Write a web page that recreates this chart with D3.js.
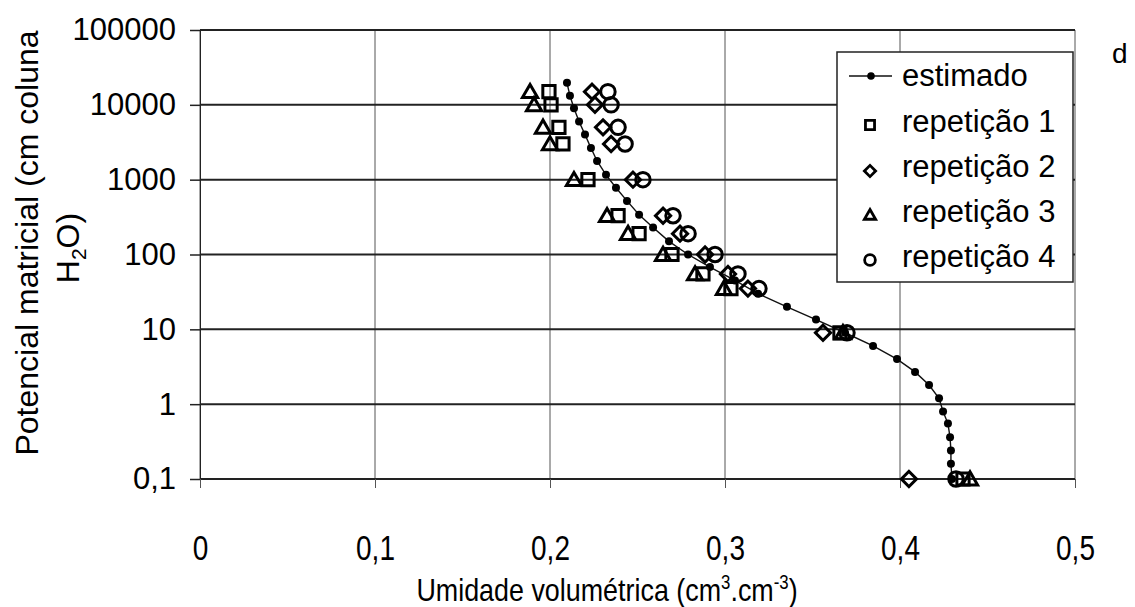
<!DOCTYPE html>
<html>
<head>
<meta charset="utf-8">
<script src="https://cdn.jsdelivr.net/npm/d3@7"></script>
<style>
  body { margin: 0; background: #fff; }
  svg { font-family: "Liberation Sans", Arial, sans-serif; }
</style>
</head>
<body>
<div class="container"></div>
<script>
// estimated curve (filled dots + line)
const estTheta = [0.2097, 0.2114, 0.2137, 0.2166, 0.2200, 0.2234, 0.2269, 0.2320, 0.2377, 0.2440,
                  0.2509, 0.2589, 0.2680, 0.2789, 0.2914, 0.3057, 0.3189, 0.3354, 0.3520, 0.3686,
                  0.3846, 0.3983, 0.4086, 0.4166, 0.4223, 0.4246, 0.4274, 0.4286, 0.4291, 0.4291, 0.4297];
const estH = [19700, 13200, 9000, 6000, 4000, 2650, 1780, 1160, 780, 520,
              340, 230, 150, 100, 68, 45, 30, 20, 13.5, 9,
              6, 4, 2.7, 1.8, 1.2, 0.8, 0.55, 0.36, 0.24, 0.16, 0.1];

// measured repetitions, all at the same suction levels
const repH = [15000, 10000, 5000, 3000, 1000, 330, 190, 100, 55, 35, 9, 0.1];
const rep1 = [0.1994, 0.2006, 0.2051, 0.2074, 0.2217, 0.2389, 0.2509, 0.2697, 0.2874, 0.3034, 0.3657, 0.4360];
const rep2 = [0.2240, 0.2257, 0.2303, 0.2349, 0.2474, 0.2646, 0.2743, 0.2886, 0.3017, 0.3131, 0.3560, 0.4051];
const rep3 = [0.1886, 0.1909, 0.1960, 0.2000, 0.2137, 0.2326, 0.2446, 0.2646, 0.2829, 0.2994, 0.3674, 0.4400];
const rep4 = [0.2331, 0.2349, 0.2389, 0.2429, 0.2531, 0.2703, 0.2789, 0.2943, 0.3074, 0.3194, 0.3697, 0.4320];

const xTicks = [0, 0.1, 0.2, 0.3, 0.4, 0.5];
const yTicks = [0.1, 1, 10, 100, 1000, 10000, 100000];
const legendLabels = ["estimado", "repetição 1", "repetição 2", "repetição 3", "repetição 4"];

const W = 1135, H = 607;
const plot = { left: 200, right: 1075, top: 30, bottom: 479 };

const svg = d3.select(".container").append("svg")
    .attr("width", W).attr("height", H);

const x = d3.scaleLinear().domain([0, 0.5]).range([plot.left, plot.right]);
const y = d3.scaleLog().domain([0.1, 100000]).range([plot.bottom, plot.top]);

const comma = v => String(v).replace(".", ",");

// vertical grid
svg.append("g").selectAll("line").data(xTicks).enter().append("line")
    .attr("x1", d => x(d)).attr("x2", d => x(d))
    .attr("y1", plot.top).attr("y2", plot.bottom)
    .attr("stroke", "#555").attr("stroke-width", 1);

// horizontal grid
svg.append("g").selectAll("line").data(yTicks).enter().append("line")
    .attr("x1", plot.left).attr("x2", plot.right)
    .attr("y1", d => y(d)).attr("y2", d => y(d))
    .attr("stroke", "#222").attr("stroke-width", 2);

// y axis
const yAxis = svg.append("g")
    .attr("transform", `translate(${plot.left},0)`)
    .call(d3.axisLeft(y).tickValues(yTicks).tickSize(10).tickPadding(14).tickFormat(comma));
yAxis.select(".domain").attr("stroke", "#222");
yAxis.selectAll("line").attr("stroke", "#222").attr("stroke-width", 1.5);
yAxis.selectAll("text").attr("font-size", 31).attr("fill", "#000")
    .attr("font-family", "'Liberation Sans', Arial, sans-serif");

// x axis (condensed lettering, like Arial Narrow)
const xAxis = svg.append("g")
    .attr("transform", `translate(0,${plot.bottom})`)
    .call(d3.axisBottom(x).tickValues(xTicks).tickSize(9).tickFormat(comma));
xAxis.select(".domain").remove();
xAxis.selectAll("line").attr("stroke", "#555").attr("stroke-width", 1);
xAxis.selectAll("text").attr("font-size", 35).attr("fill", "#000")
    .attr("font-family", "'Liberation Sans', Arial, sans-serif")
    .attr("y", 0).attr("dy", 0)
    .attr("transform", "translate(0,81) scale(0.8,1)");

// axis titles
const xt = svg.append("g").attr("transform", "translate(607,601) scale(0.84,1)")
    .append("text").attr("text-anchor", "middle").attr("font-size", 32);
xt.append("tspan").text("Umidade volumétrica (cm");
xt.append("tspan").text("3").attr("font-size", 20).attr("dy", -12);
xt.append("tspan").text(".cm").attr("dy", 12);
xt.append("tspan").text("-3").attr("font-size", 20).attr("dy", -12);
xt.append("tspan").text(")").attr("dy", 12);

const yt = svg.append("g").attr("transform", "translate(38,243) rotate(-90)");
yt.append("text").attr("text-anchor", "middle").attr("font-size", 32)
    .text("Potencial matricial (cm coluna");
const yt2 = yt.append("text").attr("text-anchor", "middle").attr("font-size", 32)
    .attr("x", -5).attr("y", 41);
yt2.append("tspan").text("H");
yt2.append("tspan").text("2").attr("font-size", 21).attr("dy", 7);
yt2.append("tspan").text("O)").attr("dy", -7);

// estimated line
const est = estTheta.map((v, i) => ({ t: v, h: estH[i] }));
svg.append("path").datum(est)
    .attr("fill", "none").attr("stroke", "#111").attr("stroke-width", 1.4)
    .attr("d", d3.line().x(d => x(d.t)).y(d => y(d.h)));
svg.append("g").selectAll("circle").data(est).enter().append("circle")
    .attr("cx", d => x(d.t)).attr("cy", d => y(d.h)).attr("r", 4).attr("fill", "#000");

// markers
const shapes = {
  square: d3.symbol().type(d3.symbolSquare),
  diamond: d3.symbol().type(d3.symbolSquare),
  triangle: d3.symbol().type(d3.symbolTriangle),
  circle: d3.symbol().type(d3.symbolCircle)
};
const series = [
  { vals: rep1, shape: "square", size: 150, rot: 0 },
  { vals: rep2, shape: "diamond", size: 115, rot: 45 },
  { vals: rep3, shape: "triangle", size: 100, rot: 0 },
  { vals: rep4, shape: "circle", size: 165, rot: 0 }
];
series.forEach(s => {
  svg.append("g").selectAll("path").data(s.vals).enter().append("path")
      .attr("d", shapes[s.shape].size(s.size)())
      .attr("transform", (d, i) => `translate(${x(d)},${y(repH[i]) + (s.shape === "triangle" ? 1.5 : 0)}) rotate(${s.rot})`)
      .attr("fill", "none").attr("stroke", "#000").attr("stroke-width", 3);
});

// legend
const lg = svg.append("g");
lg.append("rect").attr("x", 837).attr("y", 52).attr("width", 236).attr("height", 230)
    .attr("fill", "#fff").attr("stroke", "#222").attr("stroke-width", 1.5);
const rowY = [76, 125, 171, 216, 260];
lg.append("line").attr("x1", 849).attr("x2", 892).attr("y1", rowY[0]).attr("y2", rowY[0])
    .attr("stroke", "#111").attr("stroke-width", 1.4);
lg.append("circle").attr("cx", 871).attr("cy", rowY[0]).attr("r", 3.8).attr("fill", "#000");
series.forEach((s, i) => {
  lg.append("path")
      .attr("d", shapes[s.shape].size(s.size * 0.55)())
      .attr("transform", `translate(870,${rowY[i + 1]}) rotate(${s.rot})`)
      .attr("fill", "none").attr("stroke", "#000").attr("stroke-width", 2.8);
});
lg.selectAll("text").data(legendLabels).enter().append("text")
    .attr("x", 902).attr("y", (d, i) => [86, 132, 177, 222, 267][i])
    .attr("font-size", 31).text(d => d);

svg.append("text").attr("x", 1112).attr("y", 63).attr("font-size", 28).text("d");
</script>
</body>
</html>
